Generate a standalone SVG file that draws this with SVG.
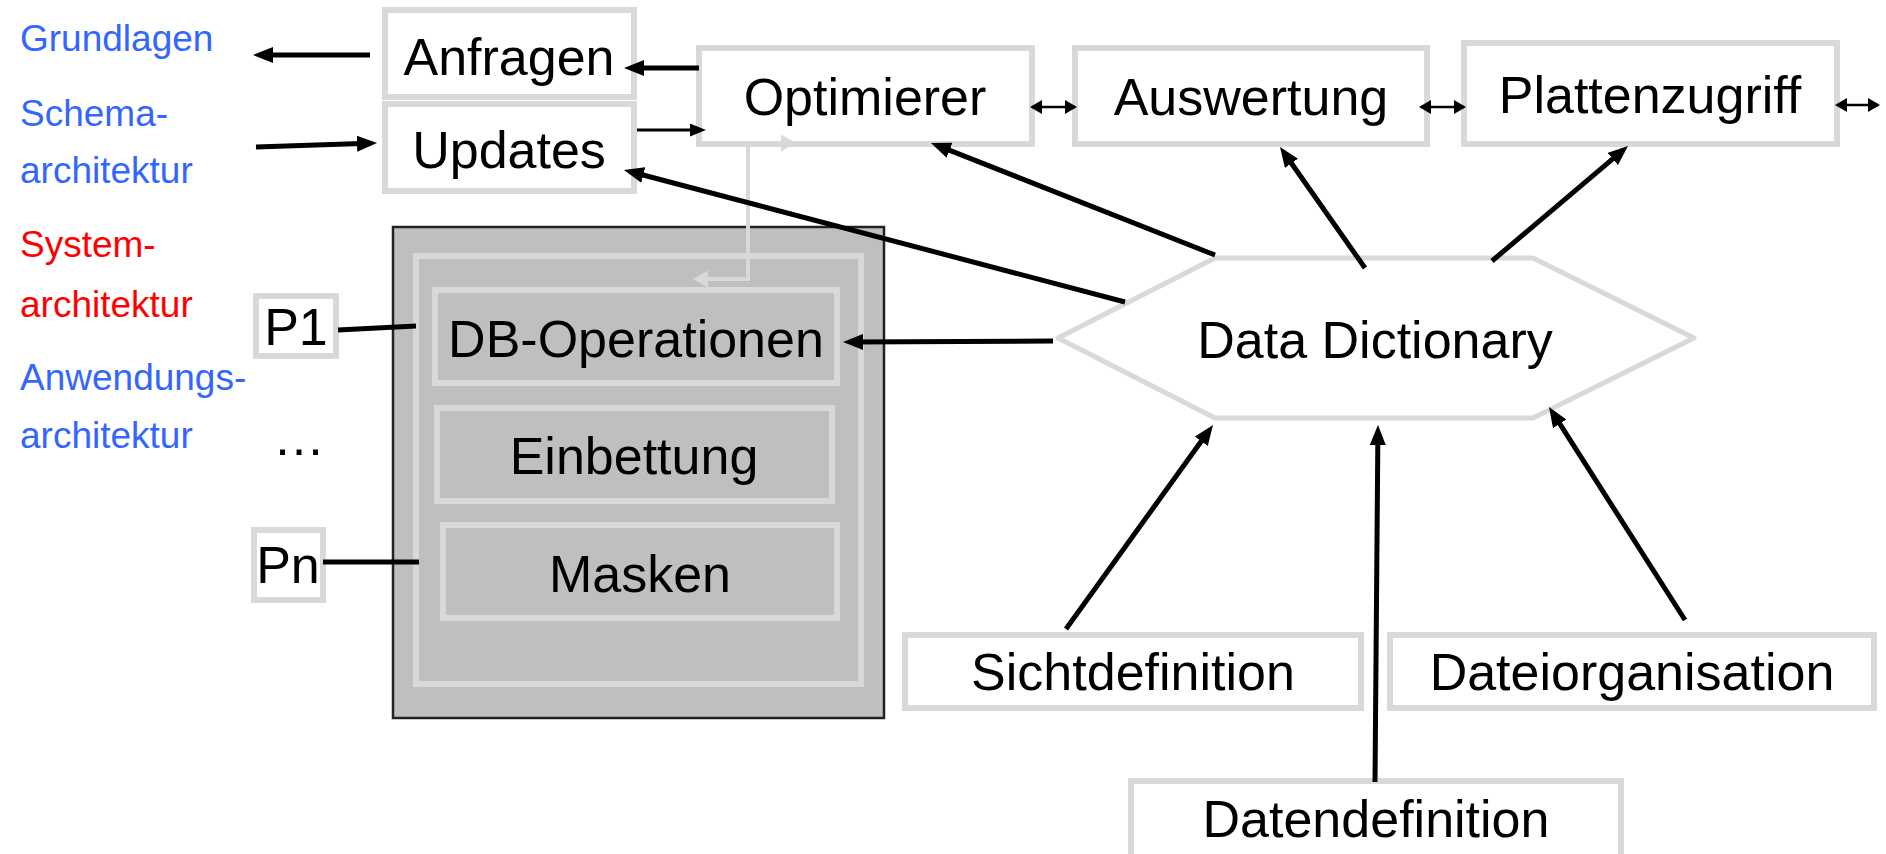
<svg xmlns="http://www.w3.org/2000/svg" width="1886" height="854" viewBox="0 0 1886 854">
<style>
text{font-family:"Liberation Sans",Arial,sans-serif;}
.t{font-size:52px;fill:#000;text-anchor:middle;}
.lbl{font-size:37px;}
.blue{fill:#3366ff;}
.red{fill:#ff0000;}
.box{fill:#fff;stroke:#d9d9d9;stroke-width:6;}
.ibox{fill:none;stroke:#d9d9d9;stroke-width:6;}
.c{stroke:#000;stroke-width:5;fill:none;}
.thin{stroke:#000;stroke-width:3;fill:none;}
.dbl{stroke:#000;stroke-width:2.5;fill:none;}
</style>
<defs>
<marker id="ah" markerUnits="userSpaceOnUse" viewBox="0 0 20 16" refX="12" refY="8" markerWidth="20" markerHeight="16" orient="auto"><path d="M0,0 L20,8 L0,16 Z" fill="#000"/></marker>
<marker id="ahs" markerUnits="userSpaceOnUse" viewBox="0 0 16 13" refX="10" refY="6.5" markerWidth="16" markerHeight="13" orient="auto"><path d="M0,0 L16,6.5 L0,13 Z" fill="#000"/></marker>
<marker id="ahd" markerUnits="userSpaceOnUse" viewBox="0 0 12 14" refX="10" refY="7" markerWidth="12" markerHeight="14" orient="auto-start-reverse"><path d="M0,0 L12,7 L0,14 Z" fill="#000"/></marker>
<marker id="ahg" markerUnits="userSpaceOnUse" viewBox="0 0 15 17" refX="0" refY="8.5" markerWidth="15" markerHeight="17" orient="auto-start-reverse"><path d="M0,0 L15,8.5 L0,17 Z" fill="#d9d9d9"/></marker>
</defs>

<g id="labels">
<text class="lbl blue" x="20" y="51">Grundlagen</text>
<text class="lbl blue" x="20" y="126">Schema-</text>
<text class="lbl blue" x="20" y="183">architektur</text>
<text class="lbl red" x="20" y="257">System-</text>
<text class="lbl red" x="20" y="317">architektur</text>
<text class="lbl blue" x="20" y="390">Anwendungs-</text>
<text class="lbl blue" x="20" y="448">architektur</text>
</g>

<g id="anfragen"><rect class="box" x="385" y="10" width="249" height="87"/><text class="t" x="509" y="75">Anfragen</text></g>
<g id="updates"><rect class="box" x="385" y="104" width="249" height="87"/><text class="t" x="509" y="168">Updates</text></g>
<g id="optimierer"><rect class="box" x="699" y="48" width="333" height="96"/><text class="t" x="865" y="115">Optimierer</text></g>
<g id="auswertung"><rect class="box" x="1075" y="48" width="352" height="96"/><text class="t" x="1251" y="115">Auswertung</text></g>
<g id="plattenzugriff"><rect class="box" x="1464" y="43" width="373" height="101"/><text class="t" x="1650" y="113">Plattenzugriff</text></g>

<g id="p1"><rect class="box" x="256" y="296" width="80" height="60"/><text class="t" x="296" y="345">P1</text></g>
<g id="dots"><text class="t" x="299" y="455">…</text></g>
<g id="pn"><rect class="box" x="254" y="530" width="69" height="70"/><text class="t" x="288" y="583">Pn</text></g>

<g id="programmierschnittstelle">
<rect x="393" y="227" width="491" height="491" fill="#bfbfbf" stroke="#222" stroke-width="2.5"/>
<rect class="ibox" x="416" y="256" width="445" height="428"/>
</g>
<g id="dboperationen"><rect class="ibox" x="435" y="290" width="402" height="93"/><text class="t" x="636" y="357">DB-Operationen</text></g>
<g id="einbettung"><rect class="ibox" x="437" y="408" width="395" height="93"/><text class="t" x="634" y="474">Einbettung</text></g>
<g id="masken"><rect class="ibox" x="443" y="525" width="394" height="93"/><text class="t" x="640" y="592">Masken</text></g>

<g id="datadictionary"><polygon points="1058,338 1215,258 1533,258 1694,338 1533,418 1215,418" fill="#fff" stroke="#d9d9d9" stroke-width="5" stroke-linejoin="round"/><text class="t" x="1375" y="358">Data Dictionary</text></g>

<g id="sichtdefinition"><rect class="box" x="905" y="635" width="456" height="73"/><text class="t" x="1133" y="690">Sichtdefinition</text></g>
<g id="dateiorganisation"><rect class="box" x="1390" y="635" width="484" height="73"/><text class="t" x="1632" y="690">Dateiorganisation</text></g>
<g id="datendefinition"><rect class="box" x="1131" y="781" width="490" height="85"/><text class="t" x="1376" y="837">Datendefinition</text></g>

<g id="connectors">
<line class="c" x1="370" y1="55" x2="261" y2="55" marker-end="url(#ah)"/>
<line class="c" x1="256" y1="147" x2="369" y2="143.3" marker-end="url(#ah)"/>
<line class="c" x1="699" y1="68" x2="632" y2="68" marker-end="url(#ah)"/>
<line class="thin" x1="637" y1="130" x2="700" y2="130" marker-end="url(#ahs)"/>
<path d="M781,143 L748,143 L748,279 L708,279" fill="none" stroke="#d9d9d9" stroke-width="4" marker-start="url(#ahg)" marker-end="url(#ahg)"/>
<line class="c" x1="1215" y1="255" x2="938.4" y2="145.9" marker-end="url(#ah)"/>
<line class="c" x1="1125" y1="302" x2="631.7" y2="172" marker-end="url(#ah)"/>
<line class="c" x1="1053" y1="341" x2="851" y2="342" marker-end="url(#ah)"/>
<line class="c" x1="1365" y1="268" x2="1284.6" y2="153.5" marker-end="url(#ah)"/>
<line class="c" x1="1492" y1="261" x2="1621.9" y2="151.2" marker-end="url(#ah)"/>
<line class="c" x1="1066" y1="629" x2="1208.3" y2="431.5" marker-end="url(#ah)"/>
<line class="c" x1="1375" y1="782" x2="1377.9" y2="433" marker-end="url(#ah)"/>
<line class="c" x1="1685" y1="620" x2="1553.3" y2="413.7" marker-end="url(#ah)"/>
<line class="c" x1="338" y1="330" x2="416" y2="326"/>
<line class="c" x1="323" y1="562" x2="419" y2="562"/>
<line class="dbl" x1="1032" y1="107" x2="1075" y2="107" marker-start="url(#ahd)" marker-end="url(#ahd)"/>
<line class="dbl" x1="1421" y1="107" x2="1464" y2="107" marker-start="url(#ahd)" marker-end="url(#ahd)"/>
<line class="dbl" x1="1837" y1="105" x2="1878" y2="105" marker-start="url(#ahd)" marker-end="url(#ahd)"/>
</g>
</svg>
